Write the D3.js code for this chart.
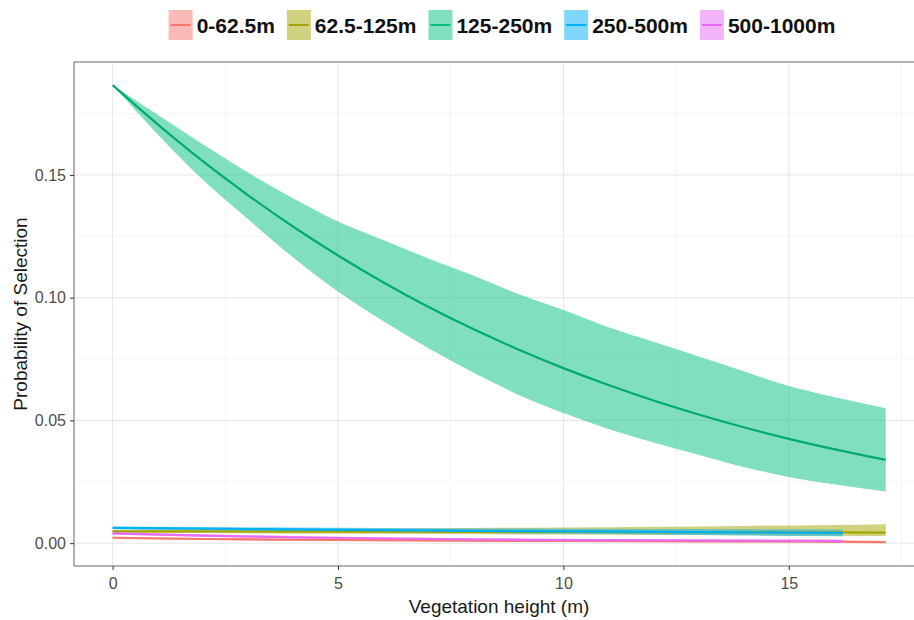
<!DOCTYPE html>
<html>
<head>
<meta charset="utf-8">
<script src="https://cdn.jsdelivr.net/npm/d3@7"></script>
<style>
  body { margin: 0; background: #fff; }
  svg { display: block; font-family: "Liberation Sans", Arial, sans-serif; }
</style>
</head>
<body>
<script>
// distance classes and their ggplot hue colours
var distanceClasses = ["0-62.5m", "62.5-125m", "125-250m", "250-500m", "500-1000m"];
var classColours = ["#F8766D", "#A3A500", "#00BF7D", "#00B0F6", "#E76BF3"];

// 125-250m: fitted curve with its band
var heightMain = [0, 1, 2, 3, 4, 5, 6, 7, 8, 9, 10, 11, 12, 13, 14, 15, 16, 17.15];
var fit125 = [0.1866, 0.1706, 0.1556, 0.1418, 0.1290, 0.1172, 0.1063, 0.0963, 0.0872, 0.0789, 0.0713, 0.0644, 0.0581, 0.0524, 0.0472, 0.0425, 0.0383, 0.0339];
var lo125 = [0.1866, 0.1665, 0.1480, 0.1320, 0.1165, 0.1025, 0.0905, 0.0795, 0.0695, 0.0605, 0.0530, 0.0465, 0.0410, 0.0360, 0.0310, 0.0270, 0.0240, 0.0210];
var hi125 = [0.1866, 0.1745, 0.1625, 0.1510, 0.1405, 0.1310, 0.1235, 0.1160, 0.1090, 0.1015, 0.0950, 0.0880, 0.0820, 0.0760, 0.0700, 0.0640, 0.0595, 0.0550];

// the four small classes
var heightLong = [0, 2, 4, 6, 8, 10, 12, 14, 16, 17.15];
var heightShort = [0, 2, 4, 6, 8, 10, 12, 14, 16, 16.2];

var fit0 = [0.0022, 0.0017, 0.0014, 0.0012, 0.0010, 0.0009, 0.0008, 0.0007, 0.0006, 0.0004];
var lo0 = [0.0018, 0.0013, 0.0010, 0.0008, 0.0006, 0.0005, 0.0004, 0.0003, 0.0002, 0.0001];
var hi0 = [0.0026, 0.0021, 0.0018, 0.0016, 0.0014, 0.0013, 0.0012, 0.0011, 0.0010, 0.0008];

var fit62 = [0.0048, 0.0048, 0.0047, 0.0047, 0.0046, 0.0046, 0.0045, 0.0045, 0.0044, 0.0043];
var lo62 = [0.0042, 0.0041, 0.0039, 0.0038, 0.0036, 0.0035, 0.0033, 0.0032, 0.0030, 0.0029];
var hi62 = [0.0054, 0.0056, 0.0058, 0.0060, 0.0062, 0.0064, 0.0067, 0.0070, 0.0074, 0.0077];

var fit250 = [0.0062, 0.0059, 0.0056, 0.0053, 0.0050, 0.0048, 0.0046, 0.0044, 0.0042, 0.0041];
var lo250 = [0.0057, 0.0053, 0.0049, 0.0045, 0.0041, 0.0038, 0.0035, 0.0031, 0.0028, 0.0027];
var hi250 = [0.0068, 0.0066, 0.0064, 0.0062, 0.0060, 0.0059, 0.0058, 0.0057, 0.0056, 0.0055];

var fit500 = [0.0040, 0.0031, 0.0024, 0.0019, 0.0015, 0.0013, 0.0011, 0.0010, 0.0009, 0.0008];
var lo500 = [0.0035, 0.0026, 0.0019, 0.0014, 0.0010, 0.0008, 0.0006, 0.0005, 0.0004, 0.0003];
var hi500 = [0.0045, 0.0036, 0.0029, 0.0024, 0.0020, 0.0018, 0.0016, 0.0015, 0.0014, 0.0013];

var xTicks = [0, 5, 10, 15];
var xMinor = [2.5, 7.5, 12.5, 17.5];
var yTicks = [0, 0.05, 0.10, 0.15];
var yMinor = [0.025, 0.075, 0.125, 0.175];

function toRows(xs, fit, lo, hi) {
    return xs.map(function (x, i) {
        return {x: x, fit: fit[i], lo: lo[i], hi: hi[i]};
    });
}

var series = [
    {name: distanceClasses[0], colour: classColours[0], rows: toRows(heightLong, fit0, lo0, hi0)},
    {name: distanceClasses[1], colour: classColours[1], rows: toRows(heightLong, fit62, lo62, hi62)},
    {name: distanceClasses[2], colour: classColours[2], rows: toRows(heightMain, fit125, lo125, hi125)},
    {name: distanceClasses[3], colour: classColours[3], rows: toRows(heightShort, fit250, lo250, hi250)},
    {name: distanceClasses[4], colour: classColours[4], rows: toRows(heightShort, fit500, lo500, hi500)}
];

var width = 914, height = 620;
var panel = {left: 74, right: 924, top: 62, bottom: 566};

var svg = d3.select("body").append("svg")
    .attr("width", width)
    .attr("height", height);

var x = d3.scaleLinear().domain([-0.857, 18.0]).range([panel.left, panel.right]);
var y = d3.scaleLinear().domain([-0.0093, 0.196]).range([panel.bottom, panel.top]);

svg.append("defs").append("clipPath").attr("id", "panelClip")
    .append("rect")
    .attr("x", panel.left).attr("y", panel.top)
    .attr("width", panel.right - panel.left).attr("height", panel.bottom - panel.top);

// grid
var grid = svg.append("g");
grid.selectAll(".xminor").data(xMinor).enter().append("line")
    .attr("x1", function (d) { return x(d); }).attr("x2", function (d) { return x(d); })
    .attr("y1", panel.top).attr("y2", panel.bottom)
    .attr("stroke", "#F2F2F2").attr("stroke-width", 0.8);
grid.selectAll(".yminor").data(yMinor).enter().append("line")
    .attr("x1", panel.left).attr("x2", panel.right)
    .attr("y1", function (d) { return y(d); }).attr("y2", function (d) { return y(d); })
    .attr("stroke", "#F2F2F2").attr("stroke-width", 0.8);
grid.selectAll(".xmajor").data(xTicks).enter().append("line")
    .attr("x1", function (d) { return x(d); }).attr("x2", function (d) { return x(d); })
    .attr("y1", panel.top).attr("y2", panel.bottom)
    .attr("stroke", "#E6E6E6").attr("stroke-width", 1);
grid.selectAll(".ymajor").data(yTicks).enter().append("line")
    .attr("x1", panel.left).attr("x2", panel.right)
    .attr("y1", function (d) { return y(d); }).attr("y2", function (d) { return y(d); })
    .attr("stroke", "#E6E6E6").attr("stroke-width", 1);

var plot = svg.append("g").attr("clip-path", "url(#panelClip)");

var band = d3.area()
    .curve(d3.curveMonotoneX)
    .x(function (d) { return x(d.x); })
    .y0(function (d) { return y(d.lo); })
    .y1(function (d) { return y(d.hi); });

var fitLine = d3.line()
    .curve(d3.curveMonotoneX)
    .x(function (d) { return x(d.x); })
    .y(function (d) { return y(d.fit); });

plot.selectAll(".band").data(series).enter().append("path")
    .attr("d", function (d) { return band(d.rows); })
    .attr("fill", function (d) { return d.colour; })
    .attr("fill-opacity", 0.5);

plot.selectAll(".fit").data(series).enter().append("path")
    .attr("d", function (d) { return fitLine(d.rows); })
    .attr("fill", "none")
    .attr("stroke", function (d, i) { return i === 2 ? "#00AA72" : d.colour; })
    .attr("stroke-width", 2.2);

// panel border
svg.append("rect")
    .attr("x", panel.left).attr("y", panel.top)
    .attr("width", panel.right - panel.left).attr("height", panel.bottom - panel.top)
    .attr("fill", "none").attr("stroke", "#808080").attr("stroke-width", 1.2);

// axes
var xAxis = svg.append("g")
    .attr("transform", "translate(0," + panel.bottom + ")")
    .call(d3.axisBottom(x).tickValues(xTicks).tickFormat(d3.format("d")).tickSize(4).tickPadding(8));
var yAxis = svg.append("g")
    .attr("transform", "translate(" + panel.left + ",0)")
    .call(d3.axisLeft(y).tickValues(yTicks).tickFormat(d3.format(".2f")).tickSize(4).tickPadding(4));

[xAxis, yAxis].forEach(function (a) {
    a.select(".domain").remove();
    a.selectAll(".tick line").attr("stroke", "#333").attr("stroke-width", 1);
    a.selectAll(".tick text")
        .attr("fill", "#4D4D4D")
        .attr("font-size", "16px")
        .attr("font-family", "Liberation Sans, Arial, sans-serif");
});

svg.append("text")
    .attr("x", (panel.left + panel.right) / 2)
    .attr("y", 613)
    .attr("text-anchor", "middle")
    .attr("font-size", "19px")
    .attr("fill", "#1a1a1a")
    .text("Vegetation height (m)");

svg.append("text")
    .attr("transform", "translate(27," + ((panel.top + panel.bottom) / 2) + ") rotate(-90)")
    .attr("text-anchor", "middle")
    .attr("font-size", "19px")
    .attr("fill", "#1a1a1a")
    .text("Probability of Selection");

// legend along the top
var keyW = 24, keyH = 30, keyTop = 10, itemGap = 12;
var legend = svg.append("g");
var items = legend.selectAll("g").data(series).enter().append("g");
items.append("rect")
    .attr("width", keyW).attr("height", keyH).attr("y", keyTop)
    .attr("fill", function (d) { return d.colour; })
    .attr("fill-opacity", 0.5);
items.append("line")
    .attr("x1", 2).attr("x2", keyW - 2)
    .attr("y1", keyTop + keyH / 2).attr("y2", keyTop + keyH / 2)
    .attr("stroke", function (d) { return d.colour; })
    .attr("stroke-width", 2);
items.append("text")
    .attr("x", keyW + 4)
    .attr("y", keyTop + keyH / 2 + 7.5)
    .attr("font-size", "21px")
    .attr("font-weight", "bold")
    .attr("fill", "#111")
    .text(function (d) { return d.name; });

var offsets = [], total = 0;
items.each(function () {
    var w = keyW + 4 + this.querySelector("text").getComputedTextLength();
    offsets.push(total);
    total += w + itemGap;
});
total -= itemGap;
var startX = 502 - total / 2;
items.attr("transform", function (d, i) { return "translate(" + (startX + offsets[i]) + ",0)"; });
</script>
</body>
</html>
